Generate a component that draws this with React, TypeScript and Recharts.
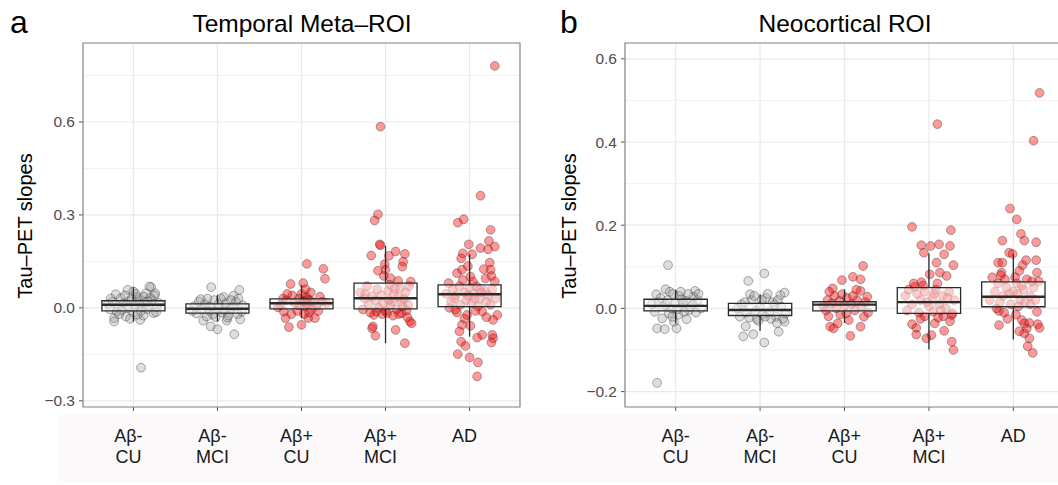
import React from 'react';
import { ComposedChart, XAxis, YAxis, CartesianGrid, Scatter, ReferenceArea, ReferenceLine } from 'recharts';

// categories
const groupLabels = [['Aβ-', 'CU'], ['Aβ-', 'MCI'], ['Aβ+', 'CU'], ['Aβ+', 'MCI'], ['AD']];
const groupPos = [1, 2, 3, 4, 5];
const groupIsPositive = [false, false, true, true, true];

// ---- Temporal Meta-ROI (panel a) ----
const tmpTicks = [-0.3, 0, 0.3, 0.6];
const tmpMinor = [-0.15, 0.15, 0.45, 0.75];
const tmpQ1 = [-0.01, -0.017, -0.003, -0.003, 0.004];
const tmpMedian = [0.01, -0.003, 0.015, 0.031, 0.044];
const tmpQ3 = [0.023, 0.013, 0.029, 0.08, 0.074];
const tmpWhiskerLow = [-0.044, -0.044, -0.033, -0.114, -0.093];
const tmpWhiskerHigh = [0.067, 0.042, 0.074, 0.2, 0.173];

// [jitter, slope]
const tmpAbnCU = [
  [-0.21, 0.044], [-0.07, 0.058], [0.0, 0.053], [0.21, 0.067], [0.26, 0.047], [0.19, 0.069], [0.15, 0.047],
  [-0.23, -0.033], [-0.23, -0.044], [-0.09, -0.028], [0.08, -0.039], [0.09, -0.193], [0.24, -0.017],
  [-0.15, 0.031], [0.12, 0.036], [-0.3, 0.012], [-0.25, 0.02], [-0.18, 0.005], [-0.12, 0.015], [-0.05, 0.022],
  [0.02, 0.01], [0.06, 0.028], [0.1, 0.003], [0.14, 0.018], [0.18, 0.008], [0.22, 0.025], [0.28, 0.002],
  [0.3, 0.016], [-0.28, -0.005], [-0.2, -0.012], [-0.14, -0.008], [-0.06, 0.0], [0.0, -0.015], [0.04, 0.035],
  [0.09, -0.01], [0.16, -0.004], [0.2, 0.032], [0.27, -0.014], [-0.1, 0.04], [-0.02, 0.03], [0.05, -0.022],
  [0.12, -0.025], [-0.17, -0.02], [-0.08, 0.008], [0.25, 0.04], [-0.27, 0.03], [0.03, 0.045], [-0.04, -0.035],
  [0.17, 0.02], [0.07, 0.012],
];
const tmpAbnMCI = [
  [-0.075, 0.067], [0.26, 0.058], [-0.17, -0.041], [-0.08, -0.06], [0.0, -0.069], [0.2, -0.085], [0.11, -0.041],
  [0.27, -0.037], [0.075, 0.035], [0.19, 0.039], [-0.28, 0.005], [-0.22, 0.02], [-0.15, 0.012], [-0.1, -0.01],
  [-0.04, 0.025], [0.02, 0.0], [0.06, -0.015], [0.1, 0.015], [0.15, -0.005], [0.22, 0.02], [0.29, -0.012],
  [-0.25, -0.018], [-0.19, -0.005], [-0.12, 0.03], [-0.06, -0.022], [0.04, 0.03], [0.13, -0.025], [0.18, 0.005],
  [0.24, -0.02], [-0.02, -0.03], [0.08, -0.008], [-0.3, -0.01], [0.3, 0.008], [-0.13, -0.028], [0.16, 0.025],
  [0.01, 0.012], [-0.09, 0.004], [0.25, 0.03], [-0.2, 0.028], [0.12, -0.032],
];
const tmpApoCU = [
  [0.064, 0.142], [0.26, 0.126], [0.28, 0.094], [-0.13, 0.077], [0.02, 0.08], [-0.11, 0.04], [0.22, 0.036],
  [-0.21, -0.012], [-0.19, -0.033], [-0.15, -0.062], [0.0, -0.055], [0.08, -0.033], [0.16, -0.033],
  [-0.25, 0.01], [-0.18, 0.025], [-0.08, 0.015], [-0.03, 0.03], [0.02, 0.02], [0.04, 0.005], [0.06, 0.035],
  [0.08, 0.012], [0.1, 0.025], [0.12, -0.005], [0.14, 0.018], [0.18, 0.008], [0.25, 0.02], [0.3, 0.015],
  [-0.28, 0.002], [-0.22, 0.03], [-0.05, -0.01], [0.0, 0.045], [0.05, 0.06], [0.03, -0.02], [0.09, -0.015],
  [-0.12, -0.02], [-0.02, 0.008], [0.07, 0.028], [0.2, -0.01], [-0.17, 0.045], [0.11, 0.05], [0.04, 0.022],
  [0.06, 0.014],
];
const tmpApoMCI = [
  [-0.06, 0.585], [-0.09, 0.302], [-0.13, 0.282], [-0.07, 0.205], [-0.06, 0.202], [-0.17, 0.169], [0.04, 0.168],
  [0.12, 0.182], [0.23, 0.174], [0.21, 0.149], [0.2, 0.133], [-0.01, 0.141], [-0.09, 0.12], [0.0, 0.123],
  [-0.02, 0.103], [0.06, 0.096], [0.15, 0.087], [0.3, 0.085], [-0.14, -0.023], [0.02, -0.017], [0.19, -0.017],
  [0.25, -0.009], [-0.15, -0.06], [-0.16, -0.066], [-0.12, -0.09], [0.12, -0.071], [0.29, -0.044], [0.31, -0.05],
  [0.23, -0.114], [-0.22, 0.07], [-0.3, 0.05], [-0.25, 0.03], [-0.2, 0.01], [-0.1, 0.06], [-0.05, 0.04],
  [0.03, 0.055], [0.08, 0.02], [0.1, 0.045], [0.17, 0.065], [0.22, 0.03], [0.27, 0.01], [-0.27, -0.005],
  [-0.18, -0.015], [-0.08, 0.0], [0.0, -0.01], [0.05, 0.075], [0.13, -0.005], [0.24, 0.05], [-0.12, 0.025],
  [0.06, 0.01], [0.15, 0.035], [-0.03, 0.015], [0.2, 0.005], [0.28, 0.07], [-0.24, 0.045], [-0.04, -0.02],
  [0.09, -0.025], [0.16, -0.02], [0.26, -0.03], [-0.11, -0.012], [0.11, 0.062], [0.04, 0.025], [-0.16, 0.038],
  [0.19, 0.02],
];
const tmpAD = [
  [0.3, 0.781], [0.13, 0.362], [-0.14, 0.275], [-0.07, 0.286], [0.25, 0.252], [-0.01, 0.205], [0.13, 0.193],
  [0.23, 0.216], [0.3, 0.198], [0.22, 0.189], [-0.08, 0.176], [-0.1, 0.16], [0.03, 0.173], [-0.02, 0.135],
  [-0.15, 0.112], [-0.09, 0.123], [0.17, 0.125], [0.24, 0.146], [0.25, 0.123], [0.26, 0.103], [0.3, 0.085],
  [0.01, 0.101], [-0.17, -0.006], [-0.03, -0.023], [0.15, -0.012], [0.33, -0.023], [0.28, -0.039], [0.01, -0.058],
  [-0.09, -0.055], [-0.12, -0.076], [0.15, -0.087], [0.09, -0.096], [0.27, -0.087], [0.28, -0.098], [0.26, -0.112],
  [-0.1, -0.109], [-0.05, -0.123], [-0.14, -0.149], [0.0, -0.16], [0.1, -0.176], [0.09, -0.221],
  [-0.25, 0.08], [-0.2, 0.06], [-0.16, 0.04], [-0.12, 0.07], [-0.06, 0.05], [0.0, 0.065], [0.05, 0.045],
  [0.08, 0.07], [0.12, 0.03], [0.18, 0.055], [0.22, 0.04], [0.27, 0.06], [-0.22, 0.02], [-0.18, 0.03],
  [-0.11, 0.01], [-0.04, 0.025], [0.02, 0.015], [0.06, 0.03], [0.1, 0.005], [0.14, 0.05], [0.2, 0.02],
  [0.31, 0.03], [-0.28, 0.045], [-0.08, 0.09], [0.04, 0.085], [0.19, 0.095], [-0.15, -0.015], [0.07, -0.01],
  [0.2, -0.03], [-0.06, -0.035], [0.12, 0.06], [-0.02, 0.04], [0.25, 0.01], [-0.24, 0.0],
];

// ---- Neocortical ROI (panel b) ----
const neoTicks = [-0.2, 0, 0.2, 0.4, 0.6];
const neoMinor = [-0.1, 0.1, 0.3, 0.5];
const neoQ1 = [-0.006, -0.017, -0.006, -0.012, 0.004];
const neoMedian = [0.006, -0.004, 0.009, 0.015, 0.028];
const neoQ3 = [0.022, 0.012, 0.016, 0.05, 0.064];
const neoWhiskerLow = [-0.036, -0.054, -0.035, -0.099, -0.075];
const neoWhiskerHigh = [0.044, 0.034, 0.046, 0.132, 0.13];

const neoAbnCU = [
  [-0.09, 0.104], [-0.22, -0.179], [-0.22, -0.048], [-0.13, -0.05], [0.01, -0.048], [-0.16, -0.024],
  [-0.02, -0.032], [0.13, -0.026], [-0.23, 0.034], [-0.12, 0.046], [-0.07, 0.04], [0.23, 0.042], [0.21, 0.028],
  [-0.28, 0.01], [-0.2, 0.015], [-0.15, 0.005], [-0.1, 0.02], [-0.05, 0.0], [0.0, 0.012], [0.04, 0.03],
  [0.08, 0.008], [0.12, 0.018], [0.16, -0.004], [0.2, 0.01], [0.26, 0.02], [0.3, 0.0], [-0.25, -0.008],
  [-0.18, 0.025], [-0.08, -0.012], [-0.03, 0.035], [0.03, -0.015], [0.07, 0.022], [0.1, -0.008], [0.15, 0.035],
  [0.18, 0.004], [0.24, -0.01], [-0.12, 0.008], [0.02, -0.002], [0.06, 0.04], [0.27, 0.035], [-0.04, -0.02],
  [0.09, 0.014],
];
const neoAbnMCI = [
  [0.05, 0.084], [-0.14, 0.066], [-0.2, -0.067], [-0.08, -0.062], [0.05, -0.082], [0.22, -0.056], [0.29, -0.032],
  [0.24, 0.032], [0.29, 0.038], [-0.17, -0.043], [-0.04, -0.026], [-0.12, 0.034], [-0.27, 0.0], [-0.22, 0.01],
  [-0.16, -0.01], [-0.1, 0.02], [-0.05, -0.005], [0.0, 0.005], [0.03, -0.015], [0.07, 0.025], [0.11, -0.008],
  [0.15, 0.015], [0.19, -0.02], [0.25, 0.005], [0.3, -0.012], [-0.24, -0.02], [-0.18, 0.015], [-0.07, 0.03],
  [0.02, 0.02], [0.09, 0.035], [0.13, -0.025], [0.17, 0.01], [0.21, 0.02], [0.27, -0.025], [-0.02, -0.03],
  [0.06, -0.02], [0.2, -0.035], [-0.13, -0.022],
];
const neoApoCU = [
  [0.22, 0.102], [0.1, 0.076], [0.19, 0.07], [-0.03, 0.068], [-0.14, 0.048], [0.19, 0.042], [-0.03, 0.034],
  [0.07, -0.066], [-0.17, -0.044], [-0.13, -0.048], [-0.08, -0.036], [0.19, -0.044], [0.23, -0.02],
  [-0.19, -0.019], [0.05, -0.028], [-0.25, 0.005], [-0.2, 0.02], [-0.15, 0.012], [-0.1, 0.0], [-0.06, 0.018],
  [0.0, 0.008], [0.03, 0.025], [0.08, 0.01], [0.12, -0.005], [0.15, 0.02], [0.2, 0.005], [0.25, 0.015],
  [0.28, -0.01], [-0.22, -0.005], [-0.12, 0.03], [0.02, -0.012], [0.1, 0.03], [0.14, 0.045], [-0.18, 0.04],
  [0.27, 0.028], [-0.05, -0.015],
];
const neoApoMCI = [
  [0.1, 0.443], [-0.2, 0.196], [0.26, 0.188], [-0.09, 0.152], [0.02, 0.15], [0.12, 0.154], [0.25, 0.15],
  [-0.06, 0.134], [0.18, 0.13], [0.09, 0.11], [0.29, 0.104], [0.13, 0.086], [0.21, 0.078], [0.01, 0.082],
  [-0.09, 0.063], [-0.17, 0.052], [-0.05, -0.019], [0.17, -0.019], [0.27, -0.016], [0.25, -0.031], [0.07, -0.036],
  [-0.2, -0.038], [-0.15, -0.047], [-0.15, -0.063], [-0.03, -0.072], [0.03, -0.064], [0.18, -0.054], [0.27, -0.08],
  [0.29, -0.1], [-0.28, 0.03], [-0.24, 0.045], [-0.2, 0.01], [-0.14, 0.035], [-0.1, 0.02], [-0.05, 0.04],
  [0.0, 0.005], [0.04, 0.025], [0.08, 0.045], [0.12, 0.01], [0.16, 0.03], [0.2, 0.0], [0.24, 0.04], [0.3, 0.02],
  [-0.26, -0.005], [-0.18, 0.06], [-0.12, -0.01], [-0.07, 0.055], [-0.02, 0.015], [0.05, -0.008], [0.1, 0.06],
  [0.14, -0.005], [0.22, 0.025], [0.28, -0.012], [0.06, 0.035], [-0.1, -0.025], [0.11, -0.022],
];
const neoAD = [
  [0.31, 0.518], [0.24, 0.403], [-0.04, 0.24], [0.04, 0.214], [0.09, 0.179], [0.13, 0.163], [-0.13, 0.163],
  [0.27, 0.159], [-0.05, 0.134], [-0.01, 0.131], [0.15, 0.116], [0.27, 0.116], [-0.18, 0.11], [-0.13, 0.11],
  [0.11, 0.104], [0.28, 0.086], [-0.14, 0.086], [0.07, 0.09], [-0.17, -0.006], [0.28, -0.008], [-0.07, -0.025],
  [-0.17, -0.04], [0.1, -0.028], [0.13, -0.036], [0.19, -0.035], [0.29, -0.038], [0.31, -0.047], [0.16, -0.048],
  [0.07, -0.055], [0.13, -0.06], [0.19, -0.072], [0.17, -0.091], [0.23, -0.107], [-0.28, 0.02], [-0.22, 0.04],
  [-0.18, 0.06], [-0.12, 0.03], [-0.08, 0.05], [-0.03, 0.01], [0.0, 0.04], [0.04, 0.06], [0.08, 0.02],
  [0.12, 0.045], [0.16, 0.07], [0.2, 0.03], [0.24, 0.05], [0.3, 0.065], [-0.25, 0.075], [-0.16, 0.015],
  [-0.1, 0.07], [-0.05, 0.035], [0.02, 0.075], [0.06, 0.005], [0.1, 0.055], [0.14, 0.015], [0.22, 0.065],
  [0.26, 0.02], [-0.2, 0.0], [-0.11, -0.01], [0.03, -0.015], [0.2, 0.01], [-0.15, 0.08], [0.05, 0.035],
];

const BOX_HALF = 0.375;
const FONT = '"Liberation Sans", Arial, Helvetica, sans-serif';

const fmt = (v: number) => (v < 0 ? '\u2212' : '') + Math.abs(v).toFixed(1);

const dot = (positive: boolean) => (p: any) => (
  <circle
    cx={p.cx}
    cy={p.cy}
    r={4.4}
    fill={positive ? '#ff0000' : '#9a9a9a'}
    fillOpacity={positive ? 0.4 : 0.33}
    stroke="#2a2a2a"
    strokeOpacity={0.38}
    strokeWidth={1}
  />
);

const makeTick = (dx: number) => (props: any) => {
  const idx = groupPos.indexOf(props.payload.value);
  const lines = groupLabels[idx] || [];
  return (
    <text x={props.x + dx} y={props.y} textAnchor="middle" fontSize={18} fill="#1a1a1a" fontFamily={FONT}>
      {lines.map((l, i) => (
        <tspan key={i} x={props.x + dx} dy={i === 0 ? 28.5 : 21}>{l}</tspan>
      ))}
    </text>
  );
};

const YTick = (props: any) => (
  <text x={props.x} y={props.y} dy={5.5} textAnchor="end" fontSize={15.5} fill="#4d4d4d" fontFamily={FONT}>
    {fmt(props.payload.value)}
  </text>
);

interface PanelProps {
  width: number;
  yWidth: number;
  right: number;
  domain: [number, number];
  ticks: number[];
  minor: number[];
  points: number[][][];
  q1: number[];
  median: number[];
  q3: number[];
  low: number[];
  high: number[];
  labelDx: number;
}

const Panel: React.FC<PanelProps> = ({ width, yWidth, right, domain, ticks, minor, points, q1, median, q3, low, high, labelDx }) => {
  return (
    <ComposedChart width={width} height={485} margin={{ top: 43, right, bottom: 18, left: 0 }}>
      <CartesianGrid stroke="#e9e9e9" strokeWidth={1.2} />
      {minor.map(v => (
        <ReferenceLine key={'m' + v} y={v} stroke="#f2f2f2" strokeWidth={1} zIndex={-50} />
      ))}
      <XAxis
        type="number"
        dataKey="x"
        domain={[0.4, 5.6]}
        ticks={groupPos}
        allowDataOverflow
        axisLine={false}
        tickLine={{ stroke: '#555' }}
        tickSize={4}
        height={60}
        interval={0}
        tick={makeTick(labelDx)}
      />
      <YAxis
        type="number"
        dataKey="y"
        domain={domain}
        ticks={ticks}
        allowDataOverflow
        axisLine={false}
        tickLine={{ stroke: '#555' }}
        tickSize={4}
        tickMargin={4}
        width={yWidth}
        interval={0}
        tick={<YTick />}
      />
      {points.map((pts, i) => (
        <Scatter
          key={'s' + i}
          data={pts.map(([dx, y]) => ({ x: groupPos[i] + dx, y }))}
          shape={dot(groupIsPositive[i])}
          isAnimationActive={false}
        />
      ))}
      {groupPos.map((c, i) => (
        <ReferenceLine
          key={'wh' + i}
          segment={[{ x: c, y: q3[i] }, { x: c, y: high[i] }]}
          stroke="#2a2a2a"
          strokeWidth={1.3}
          zIndex={700}
        />
      ))}
      {groupPos.map((c, i) => (
        <ReferenceLine
          key={'wl' + i}
          segment={[{ x: c, y: q1[i] }, { x: c, y: low[i] }]}
          stroke="#2a2a2a"
          strokeWidth={1.3}
          zIndex={700}
        />
      ))}
      {groupPos.map((c, i) => (
        <ReferenceArea
          key={'b' + i}
          x1={c - BOX_HALF}
          x2={c + BOX_HALF}
          y1={q1[i]}
          y2={q3[i]}
          fill="#ffffff"
          fillOpacity={0.5}
          stroke="#2a2a2a"
          strokeWidth={1.3}
          zIndex={700}
        />
      ))}
      {groupPos.map((c, i) => (
        <ReferenceLine
          key={'md' + i}
          segment={[{ x: c - BOX_HALF, y: median[i] }, { x: c + BOX_HALF, y: median[i] }]}
          stroke="#2a2a2a"
          strokeWidth={2.4}
          zIndex={710}
        />
      ))}
      <ReferenceArea x1={0.4} x2={5.6} y1={domain[0]} y2={domain[1]} fill="none" stroke="#8a8a8a" strokeWidth={1.2} zIndex={720} />
    </ComposedChart>
  );
};

export default function App() {
  return (
    <div style={{ position: 'fixed', left: 0, top: 0, width: 1058, height: 485, overflow: 'hidden', background: '#ffffff', fontFamily: FONT }}>
      <div style={{ position: 'absolute', left: 58, top: 415, width: 1000, height: 68, background: '#fbf9fa' }} />
      <div style={{ position: 'absolute', left: 0, top: 0 }}>
        <Panel
          width={530}
          yWidth={83}
          right={10}
          domain={[-0.32, 0.855]}
          ticks={tmpTicks}
          minor={tmpMinor}
          points={[tmpAbnCU, tmpAbnMCI, tmpApoCU, tmpApoMCI, tmpAD]}
          q1={tmpQ1}
          median={tmpMedian}
          q3={tmpQ3}
          low={tmpWhiskerLow}
          high={tmpWhiskerHigh}
          labelDx={-5}
        />
        <svg width={530} height={485} style={{ position: 'absolute', left: 0, top: 0, pointerEvents: 'none' }}>
          <text x={10} y={33} fontSize={32} fill="#000" fontFamily={FONT}>a</text>
          <text x={302} y={32} fontSize={24.5} textAnchor="middle" fill="#000" fontFamily={FONT}>Temporal Meta–ROI</text>
          <text transform="translate(32,226) rotate(-90)" fontSize={20} textAnchor="middle" fill="#000" fontFamily={FONT}>Tau–PET slopes</text>
        </svg>
      </div>
      <div style={{ position: 'absolute', left: 530, top: 0 }}>
        <Panel
          width={540}
          yWidth={95}
          right={6}
          domain={[-0.237, 0.638]}
          ticks={neoTicks}
          minor={neoMinor}
          points={[neoAbnCU, neoAbnMCI, neoApoCU, neoApoMCI, neoAD]}
          q1={neoQ1}
          median={neoMedian}
          q3={neoQ3}
          low={neoWhiskerLow}
          high={neoWhiskerHigh}
          labelDx={0}
        />
        <svg width={540} height={485} style={{ position: 'absolute', left: 0, top: 0, pointerEvents: 'none' }}>
          <text x={30} y={33} fontSize={32} fill="#000" fontFamily={FONT}>b</text>
          <text x={315} y={32} fontSize={24.5} textAnchor="middle" fill="#000" fontFamily={FONT}>Neocortical ROI</text>
          <text transform="translate(46,226) rotate(-90)" fontSize={20} textAnchor="middle" fill="#000" fontFamily={FONT}>Tau–PET slopes</text>
        </svg>
      </div>
    </div>
  );
}
